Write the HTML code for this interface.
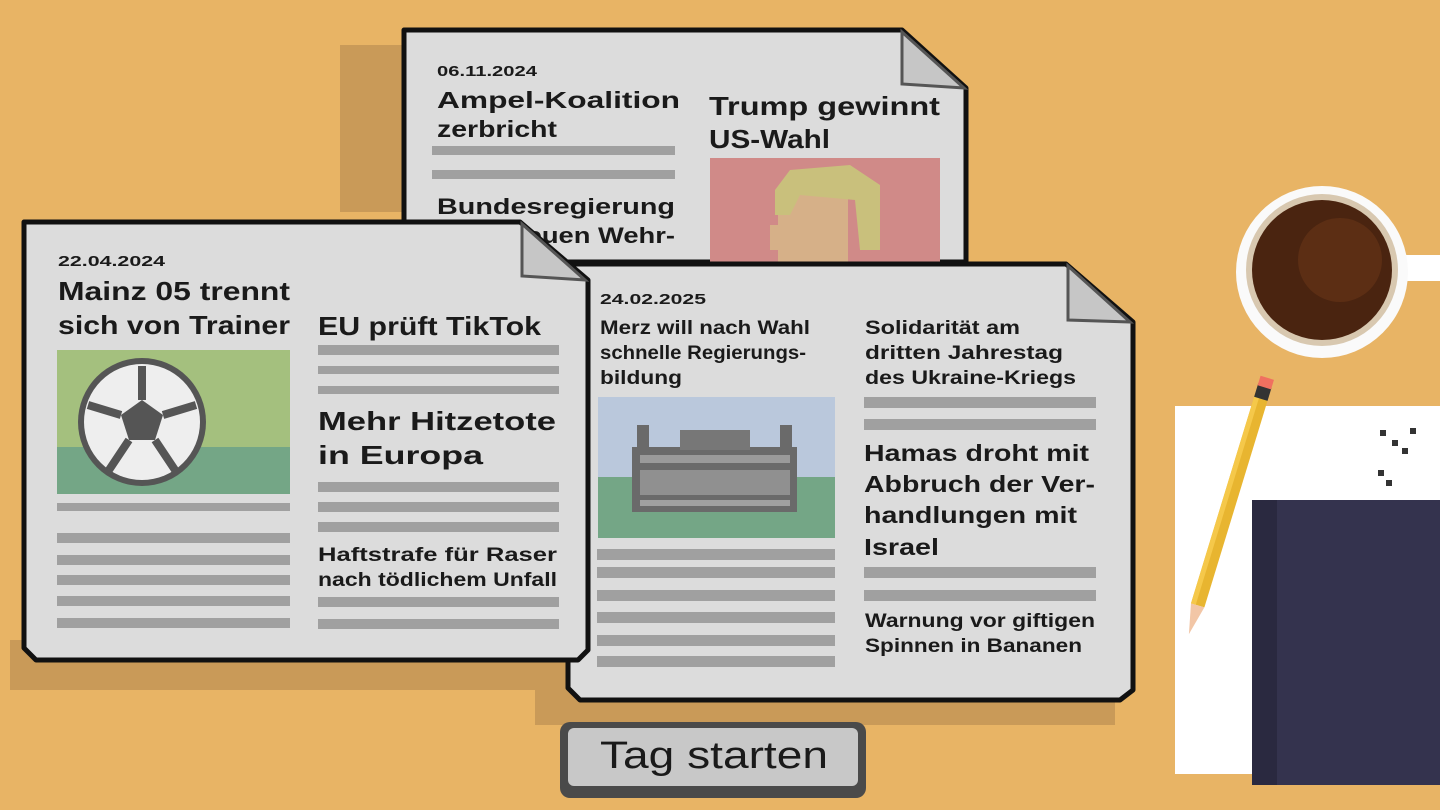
<!DOCTYPE html>
<html><head><meta charset="utf-8"><style>
html,body{margin:0;padding:0;width:1440px;height:810px;overflow:hidden;background:#e8b465}
svg{display:block}
text{font-family:"Liberation Sans","DejaVu Sans",sans-serif;font-weight:bold;fill:#1a1a1a}
</style></head><body>
<svg width="1440" height="810" viewBox="0 0 1440 810" xmlns="http://www.w3.org/2000/svg">
<rect width="1440" height="810" fill="#e8b465"/>
<polygon points="340,45 402,45 402,212 340,212" fill="#c99a58"/>
<rect x="10" y="640" width="580" height="50" fill="#c99a58"/>
<rect x="535" y="680" width="580" height="45" fill="#c99a58"/>

<!-- paper 1 -->
<polygon points="404,30 902,30 966,88 966,262 404,262" fill="#dcdcdc" stroke="#111" stroke-width="5" stroke-linejoin="round"/>
<polygon points="902,32 902,84 964,88" fill="#c6c6c6" stroke="#555" stroke-width="3"/>
<text x="437" y="76" font-size="15" textLength="100" lengthAdjust="spacingAndGlyphs">06.11.2024</text>
<text x="437" y="108" font-size="23" textLength="243" lengthAdjust="spacingAndGlyphs">Ampel-Koalition</text>
<text x="437" y="137" font-size="23" textLength="120" lengthAdjust="spacingAndGlyphs">zerbricht</text>
<rect x="432" y="146" width="243" height="9" fill="#a0a0a0"/>
<rect x="432" y="170" width="243" height="9" fill="#a0a0a0"/>
<text x="437" y="214" font-size="22" textLength="238" lengthAdjust="spacingAndGlyphs">Bundesregierung</text>
<text x="437" y="243" font-size="22" textLength="238" lengthAdjust="spacingAndGlyphs">plant neuen Wehr-</text>
<text x="709" y="115" font-size="26" textLength="231" lengthAdjust="spacingAndGlyphs">Trump gewinnt</text>
<text x="709" y="148" font-size="26" textLength="121" lengthAdjust="spacingAndGlyphs">US-Wahl</text>
<rect x="710" y="158" width="230" height="104" fill="#d08a88"/>
<rect x="778" y="190" width="70" height="72" fill="#d6b088"/>
<path d="M775,190 L790,170 L850,165 L880,185 L880,250 L860,250 L855,200 L800,195 L790,215 L775,215 Z" fill="#c9c07c"/>
<rect x="770" y="225" width="10" height="25" fill="#d6b088"/>

<!-- paper 3 -->
<polygon points="568,264 1066,264 1133,322 1133,690 1120,700 580,700 568,688" fill="#dcdcdc" stroke="#111" stroke-width="5" stroke-linejoin="round"/>
<polygon points="1068,266 1068,320 1130,322" fill="#c6c6c6" stroke="#555" stroke-width="3"/>
<text x="600" y="304" font-size="15" textLength="106" lengthAdjust="spacingAndGlyphs">24.02.2025</text>
<text x="600" y="334" font-size="19" textLength="210" lengthAdjust="spacingAndGlyphs">Merz will nach Wahl</text>
<text x="600" y="359" font-size="19" textLength="206" lengthAdjust="spacingAndGlyphs">schnelle Regierungs-</text>
<text x="600" y="384" font-size="19" textLength="82" lengthAdjust="spacingAndGlyphs">bildung</text>
<rect x="598" y="397" width="237" height="80" fill="#bac8dc"/>
<rect x="598" y="477" width="237" height="61" fill="#74a686"/>
<rect x="632" y="447" width="165" height="65" fill="#6a6a6a"/>
<rect x="640" y="455" width="150" height="8" fill="#9a9a9a"/>
<rect x="640" y="470" width="150" height="25" fill="#909090"/>
<rect x="640" y="500" width="150" height="6" fill="#a0a0a0"/>
<rect x="680" y="430" width="70" height="20" fill="#777"/>
<rect x="637" y="425" width="12" height="25" fill="#6a6a6a"/>
<rect x="780" y="425" width="12" height="25" fill="#6a6a6a"/>
<g fill="#a0a0a0">
<rect x="597" y="549" width="238" height="11"/><rect x="597" y="567" width="238" height="11"/>
<rect x="597" y="590" width="238" height="11"/><rect x="597" y="612" width="238" height="11"/>
<rect x="597" y="635" width="238" height="11"/><rect x="597" y="656" width="238" height="11"/>
<rect x="864" y="397" width="232" height="11"/><rect x="864" y="419" width="232" height="11"/>
<rect x="864" y="567" width="232" height="11"/><rect x="864" y="590" width="232" height="11"/>
</g>
<text x="865" y="334" font-size="19" textLength="155" lengthAdjust="spacingAndGlyphs">Solidarität am</text>
<text x="865" y="359" font-size="19" textLength="198" lengthAdjust="spacingAndGlyphs">dritten Jahrestag</text>
<text x="865" y="384" font-size="19" textLength="211" lengthAdjust="spacingAndGlyphs">des Ukraine-Kriegs</text>
<text x="864" y="461" font-size="23" textLength="225" lengthAdjust="spacingAndGlyphs">Hamas droht mit</text>
<text x="864" y="492" font-size="23" textLength="231" lengthAdjust="spacingAndGlyphs">Abbruch der Ver-</text>
<text x="864" y="523" font-size="23" textLength="213" lengthAdjust="spacingAndGlyphs">handlungen mit</text>
<text x="864" y="555" font-size="23" textLength="75" lengthAdjust="spacingAndGlyphs">Israel</text>
<text x="865" y="627" font-size="19" textLength="230" lengthAdjust="spacingAndGlyphs">Warnung vor giftigen</text>
<text x="865" y="652" font-size="19" textLength="217" lengthAdjust="spacingAndGlyphs">Spinnen in Bananen</text>

<!-- paper 2 -->
<polygon points="24,222 520,222 588,280 588,650 578,660 36,660 24,648" fill="#dcdcdc" stroke="#111" stroke-width="5" stroke-linejoin="round"/>
<polygon points="522,224 522,276 585,280" fill="#c6c6c6" stroke="#555" stroke-width="3"/>
<text x="58" y="266" font-size="15" textLength="107" lengthAdjust="spacingAndGlyphs">22.04.2024</text>
<text x="58" y="300" font-size="26" textLength="232" lengthAdjust="spacingAndGlyphs">Mainz 05 trennt</text>
<text x="58" y="334" font-size="26" textLength="232" lengthAdjust="spacingAndGlyphs">sich von Trainer</text>
<rect x="57" y="350" width="233" height="97" fill="#a4c07e"/>
<rect x="57" y="447" width="233" height="47" fill="#74a686"/>
<circle cx="142" cy="422" r="64" fill="#555" />
<circle cx="142" cy="422" r="58" fill="#eee"/>
<polygon points="142,400 163,415 155,440 129,440 121,415" fill="#555"/>
<g stroke="#555" stroke-width="8"><line x1="142" y1="400" x2="142" y2="366"/><line x1="163" y1="415" x2="196" y2="405"/><line x1="155" y1="440" x2="175" y2="470"/><line x1="129" y1="440" x2="109" y2="470"/><line x1="121" y1="415" x2="88" y2="405"/></g>
<g fill="#a0a0a0">
<rect x="57" y="503" width="233" height="8"/><rect x="57" y="533" width="233" height="10"/>
<rect x="57" y="555" width="233" height="10"/><rect x="57" y="575" width="233" height="10"/>
<rect x="57" y="596" width="233" height="10"/><rect x="57" y="618" width="233" height="10"/>
<rect x="318" y="345" width="241" height="10"/><rect x="318" y="366" width="241" height="8"/>
<rect x="318" y="386" width="241" height="8"/>
<rect x="318" y="482" width="241" height="10"/><rect x="318" y="502" width="241" height="10"/>
<rect x="318" y="522" width="241" height="10"/>
<rect x="318" y="597" width="241" height="10"/><rect x="318" y="619" width="241" height="10"/>
</g>
<text x="318" y="335" font-size="26" textLength="223" lengthAdjust="spacingAndGlyphs">EU prüft TikTok</text>
<text x="318" y="430" font-size="26" textLength="238" lengthAdjust="spacingAndGlyphs">Mehr Hitzetote</text>
<text x="318" y="464" font-size="26" textLength="165" lengthAdjust="spacingAndGlyphs">in Europa</text>
<text x="318" y="561" font-size="19" textLength="239" lengthAdjust="spacingAndGlyphs">Haftstrafe für Raser</text>
<text x="318" y="586" font-size="19" textLength="239" lengthAdjust="spacingAndGlyphs">nach tödlichem Unfall</text>

<!-- button -->
<rect x="560" y="722" width="306" height="76" rx="10" fill="#4a4a4a"/>
<rect x="568" y="728" width="290" height="58" rx="6" fill="#c8c8c8"/>
<text x="600" y="768" font-size="38" textLength="228" lengthAdjust="spacingAndGlyphs" style="font-weight:normal" fill="#222">Tag starten</text>

<!-- coffee -->
<rect x="1395" y="255" width="45" height="26" fill="#fff"/>
<circle cx="1322" cy="272" r="86" fill="#fafafa"/>
<circle cx="1322" cy="270" r="76" fill="#d8c8b0"/>
<circle cx="1322" cy="270" r="70" fill="#4a2410"/>
<circle cx="1340" cy="260" r="42" fill="#5c2e14"/>

<!-- paper & notebook -->
<rect x="1175" y="406" width="265" height="368" fill="#ffffff"/>
<rect x="1252" y="500" width="188" height="285" fill="#34334e"/>
<rect x="1252" y="500" width="25" height="285" fill="#2a2940"/>
<g fill="#333"><rect x="1380" y="430" width="6" height="6"/><rect x="1392" y="440" width="6" height="6"/><rect x="1410" y="428" width="6" height="6"/><rect x="1402" y="448" width="6" height="6"/><rect x="1378" y="470" width="6" height="6"/><rect x="1386" y="480" width="6" height="6"/></g>
<g transform="translate(1262,395) rotate(17)">
<rect x="-7" y="0" width="14" height="220" fill="#e8b530"/>
<rect x="-7" y="0" width="5" height="220" fill="#f5c84a"/>
<rect x="-7" y="-10" width="14" height="14" fill="#333"/>
<rect x="-7" y="-18" width="14" height="10" fill="#f07060"/>
<polygon points="-7,220 7,220 0,250" fill="#f2c6a6"/>
</g>
</svg>
</body></html>
